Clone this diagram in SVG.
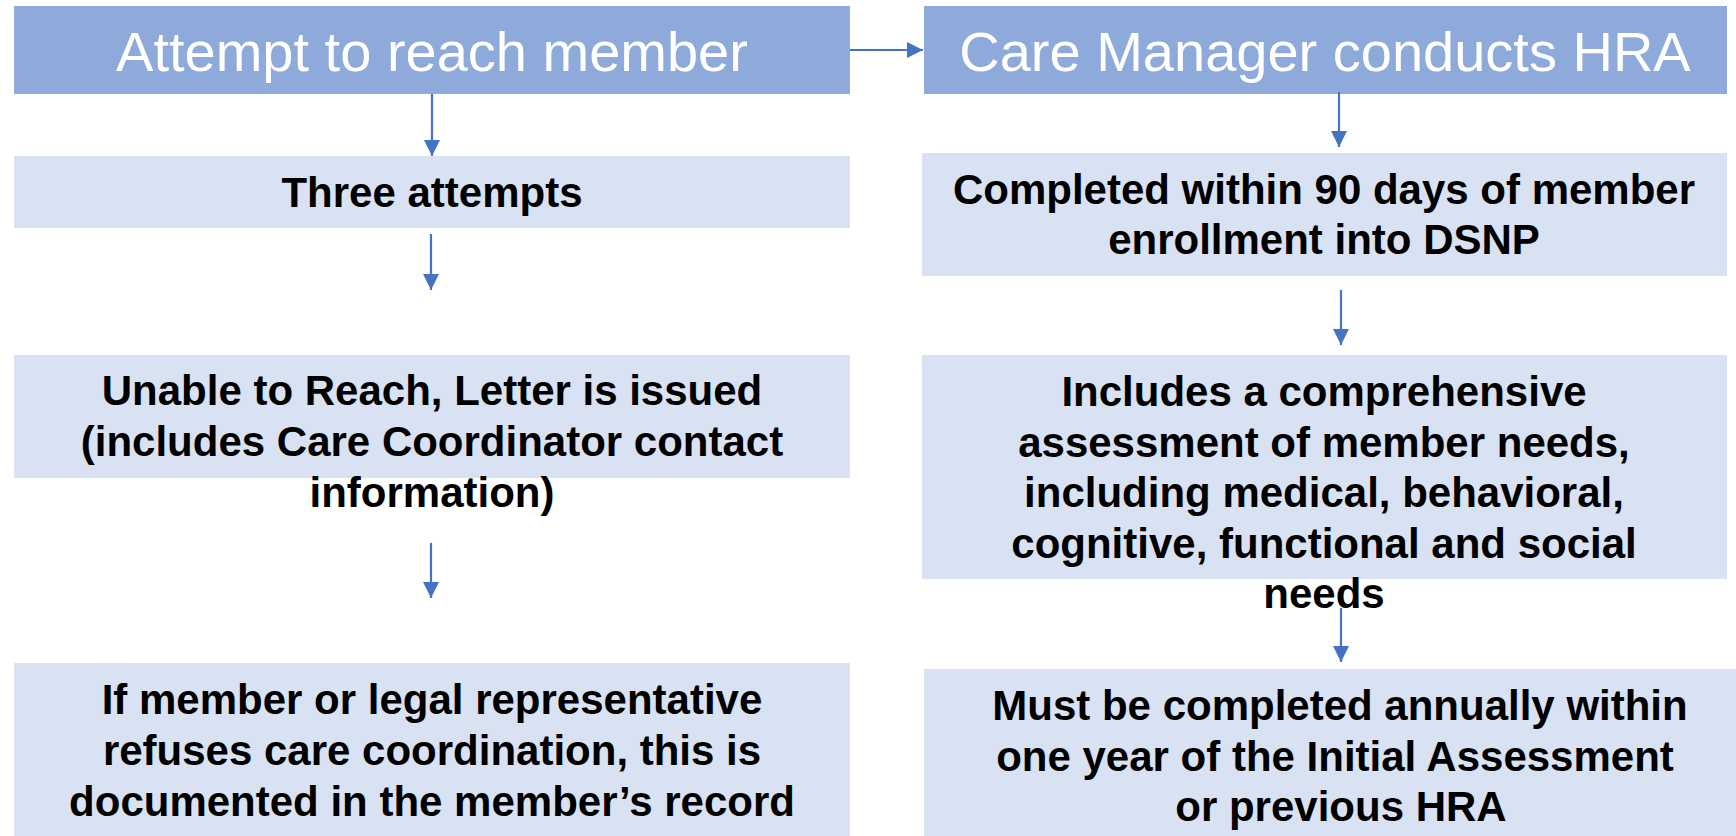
<svg xmlns="http://www.w3.org/2000/svg" width="1736" height="836" viewBox="0 0 1736 836">
<style>
.hdr{fill:#8EAADB}
.sub{fill:#D9E2F3}
.ht{font-family:"Liberation Sans",Arial,sans-serif;font-size:56px;fill:#FFFFFF;text-anchor:middle}
.bt{font-family:"Liberation Sans",Arial,sans-serif;font-size:42px;font-weight:bold;fill:#000000;text-anchor:middle}
.con{stroke:#4472C4;stroke-width:2.2;fill:none}
</style>
<defs>
<marker id="ah" markerUnits="userSpaceOnUse" markerWidth="16" markerHeight="16" refX="16" refY="8" orient="auto">
<path d="M0,0 L16,8 L0,16 Z" fill="#4472C4"/>
</marker>
</defs>
<rect width="1736" height="836" fill="#FFFFFF"/>
<g id="attempt">
<rect class="hdr" x="14" y="6" width="836" height="88"/>
<text class="ht" x="432" y="71">Attempt to reach member</text>
</g>
<g id="hra">
<rect class="hdr" x="924" y="6" width="803" height="88"/>
<text class="ht" x="1325" y="71">Care Manager conducts HRA</text>
</g>
<g id="three">
<rect class="sub" x="14" y="156" width="836" height="72"/>
<text class="bt" x="432" y="207">Three attempts</text>
</g>
<g id="completed">
<rect class="sub" x="922" y="153" width="805" height="123"/>
<text class="bt" x="1324" y="204">Completed within 90 days of member</text>
<text class="bt" x="1324" y="254">enrollment into DSNP</text>
</g>
<g id="unable">
<rect class="sub" x="14" y="355" width="836" height="123"/>
<text class="bt" x="432" y="405">Unable to Reach, Letter is issued</text>
<text class="bt" x="432" y="456">(includes Care Coordinator contact</text>
<text class="bt" x="432" y="507">information)</text>
</g>
<g id="includes">
<rect class="sub" x="922" y="355" width="805" height="224"/>
<text class="bt" x="1324" y="406">Includes a comprehensive</text>
<text class="bt" x="1324" y="457">assessment of member needs,</text>
<text class="bt" x="1324" y="507">including medical, behavioral,</text>
<text class="bt" x="1324" y="558">cognitive, functional and social</text>
<text class="bt" x="1324" y="608">needs</text>
</g>
<g id="refuses">
<rect class="sub" x="14" y="663" width="836" height="173"/>
<text class="bt" x="432" y="714">If member or legal representative</text>
<text class="bt" x="432" y="765">refuses care coordination, this is</text>
<text class="bt" x="432" y="816">documented in the member’s record</text>
</g>
<g id="annual">
<rect class="sub" x="924" y="669" width="812" height="167"/>
<text class="bt" x="1340" y="720">Must be completed annually within</text>
<text class="bt" x="1335" y="771">one year of the Initial Assessment</text>
<text class="bt" x="1341" y="821">or previous HRA</text>
</g>
<g id="connectors">
<line class="con" x1="850" y1="50" x2="923" y2="50" marker-end="url(#ah)"/>
<line class="con" x1="432" y1="94" x2="432" y2="156" marker-end="url(#ah)"/>
<line class="con" x1="431" y1="234" x2="431" y2="290" marker-end="url(#ah)"/>
<line class="con" x1="431" y1="543" x2="431" y2="598" marker-end="url(#ah)"/>
<line class="con" x1="1339" y1="92" x2="1339" y2="147" marker-end="url(#ah)"/>
<line class="con" x1="1341" y1="290" x2="1341" y2="345" marker-end="url(#ah)"/>
<line class="con" x1="1341" y1="608" x2="1341" y2="662" marker-end="url(#ah)"/>
</g>
</svg>
